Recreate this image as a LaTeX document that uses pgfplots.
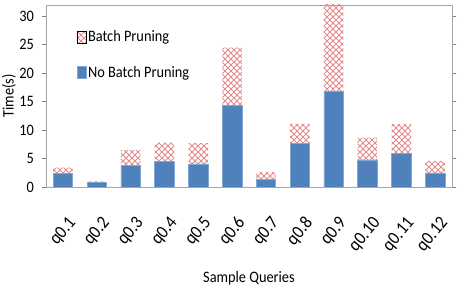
\documentclass[border=0pt]{standalone}
\usepackage{fontspec}
\setmainfont{Carlito}[FakeStretch=0.9]
\usepackage{pgfplots}
\pgfplotsset{compat=1.18}
\usetikzlibrary{patterns}
\pgfdeclarepatternformonly{lattice}{\pgfqpoint{-1bp}{-1bp}}{\pgfqpoint{7bp}{7bp}}{\pgfqpoint{6bp}{6bp}}{
  \pgfsetlinewidth{0.9bp}
  \pgfpathmoveto{\pgfqpoint{0bp}{0bp}}\pgfpathlineto{\pgfqpoint{6bp}{6bp}}
  \pgfpathmoveto{\pgfqpoint{0bp}{6bp}}\pgfpathlineto{\pgfqpoint{6bp}{0bp}}
  \pgfusepath{stroke}}
\definecolor{barblue}{RGB}{79,129,189}
\definecolor{patred}{RGB}{226,140,140}
\begin{document}
\begin{tikzpicture}
\useasboundingbox (0,0) rectangle (457bp,290bp);
\begin{axis}[
  at={(46bp,103bp)}, anchor=south west,
  scale only axis, width=406bp, height=182bp,
  ybar stacked, bar width=19.5bp,
  xmin=-0.5, xmax=11.5, ymin=0, ymax=32,
  xtick={0,...,11},
  xticklabels={q0.1,q0.2,q0.3,q0.4,q0.5,q0.6,q0.7,q0.8,q0.9,q0.10,q0.11,q0.12},
  xticklabel style={yshift=-29bp, xshift=10bp, rotate=50, anchor=east, font=\fontsize{18.5}{20}\selectfont, inner sep=0bp},
  ytick={0,5,...,30},
  yticklabel style={font=\fontsize{16}{18}\selectfont, inner sep=0bp, xshift=-8bp},
  /pgf/number format/assume math mode=true,
  x tick style={draw=none},
  y tick style={gray, line width=0.8bp},
  tick align=outside, major tick length=4bp,
  axis line style={gray!70, line width=0.9bp},
  ylabel={Time(s)}, ylabel style={font=\fontsize{16}{18}\selectfont},
  xlabel={Sample Queries}, xlabel style={font=\fontsize{16}{18}\selectfont, at={(axis description cs:0.5,0)}, anchor=center, yshift=-91bp},
  legend style={draw=none, fill=none, at={(0.075,0.87)}, anchor=north west, font=\fontsize{16}{18}\selectfont, row sep=19bp, inner sep=0bp},
  legend image code/.code={\draw[#1] (0bp,-6bp) rectangle (9bp,6bp);},
  legend cell align=left,
  reverse legend,
]
\addplot[fill=barblue, draw=barblue!70!white] coordinates {
(0,2.4) (1,0.8) (2,3.75) (3,4.5) (4,4.05) (5,14.3) (6,1.4) (7,7.7) (8,16.8) (9,4.76) (10,5.9) (11,2.5)};
\addplot[pattern=lattice, pattern color=patred, draw=none] coordinates {
(0,1.0) (1,0.2) (2,2.75) (3,3.3) (4,3.65) (5,10.2) (6,1.2) (7,3.4) (8,16.0) (9,3.94) (10,5.15) (11,2.1)};
\legend{No Batch Pruning, Batch Pruning}
\end{axis}
\end{tikzpicture}
\end{document}
